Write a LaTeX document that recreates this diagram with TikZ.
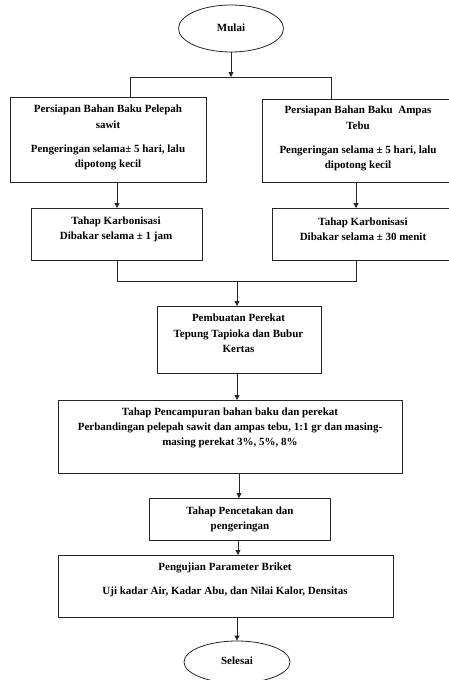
\documentclass[tikz,border=0pt]{standalone}
\usepackage{fontspec}
\setmainfont{Liberation Serif}
\usetikzlibrary{arrows.meta,shapes.geometric}
\tikzset{
  ln/.style={draw=black!85, line width=0.8pt},
  arr/.style={ln, -{Triangle[length=5pt,width=5pt]}},
  boxr/.style={ln, rectangle, inner sep=0pt, anchor=north west},
  txt/.style={font=\bfseries\fontsize{11}{15.3}\selectfont, align=center, inner sep=0pt},
  oval/.style={ln, ellipse, inner sep=0pt},
}
\begin{document}
\begin{tikzpicture}[x=1pt,y=-1pt]
\useasboundingbox (0,0) rectangle (449,680);
\clip (0,0) rectangle (449,680);
% shapes
\node[oval, minimum width=105pt, minimum height=47pt] (mulai) at (231,28.5) {};
\node[txt] (tmulai) at (231,28) {Mulai};

\node[boxr, minimum width=196pt, minimum height=85pt] (b1l) at (10,97) {};
\node[boxr, minimum width=200pt, minimum height=83pt] (b1r) at (262,99) {};
\node[boxr, minimum width=171pt, minimum height=52pt] (b2l) at (31,208) {};
\node[boxr, minimum width=190pt, minimum height=52pt] (b2r) at (272,208) {};
\node[boxr, minimum width=164pt, minimum height=67pt] (b3) at (157,306) {};
\node[boxr, minimum width=344pt, minimum height=73pt] (b4) at (58,400) {};
\node[boxr, minimum width=181pt, minimum height=42pt] (b5) at (149,498) {};
\node[boxr, minimum width=335pt, minimum height=62pt] (b6) at (58,555) {};
\node[oval, minimum width=106pt, minimum height=42pt] (selesai) at (237,662) {};

% texts
\node[txt] (t1l) at (108,137.5) {Persiapan Bahan Baku Pelepah\\sawit\\[8.5pt]Pengeringan selama± 5 hari, lalu\\dipotong kecil};
\node[txt] (t1r) at (358,138.5) {Persiapan Bahan Baku\ \ Ampas\\Tebu\\[8.5pt]Pengeringan selama ± 5 hari, lalu\\dipotong kecil};
\node[txt] (t2l) at (116,229.5) {Tahap Karbonisasi\\Dibakar selama ± 1 jam};
\node[txt] (t2r) at (363,229.5) {Tahap Karbonisasi\\Dibakar selama ± 30 menit};
\node[txt] (t3) at (238.5,333.5) {Pembuatan Perekat\\Tepung Tapioka dan Bubur\\Kertas};
\node[txt] (t4) at (230,428) {Tahap Pencampuran bahan baku dan perekat\\Perbandingan pelepah sawit dan ampas tebu, 1:1 gr dan masing-\\masing perekat 3\%, 5\%, 8\%};
\node[txt] (t5) at (240,519.5) {Tahap Pencetakan dan\\pengeringan};
\node[txt] (t6) at (225,579.5) {Pengujian Parameter Briket\\[8.5pt]Uji kadar Air, Kadar Abu, dan Nilai Kalor, Densitas};
\node[txt] (tsel) at (237,661) {Selesai};

% connectors
\coordinate (j1) at (231,77);
\coordinate (j1l) at (130,77);
\coordinate (j1r) at (331,77);
\draw[arr] (mulai.south) -- (j1);
\draw[ln] (j1l) -- (j1r);
\draw[ln] (j1l) -- (j1l |- b1l.north);
\draw[ln] (j1r) -- (j1r |- b1r.north);

\coordinate (xl) at (117,0);
\coordinate (xr) at (356,0);
\draw[arr] (xl |- b1l.south) -- (xl |- b2l.north);
\draw[arr] (xr |- b1r.south) -- (xr |- b2r.north);

\coordinate (j2l) at (117,281);
\coordinate (j2r) at (356,281);
\coordinate (j2) at (237,281);
\draw[ln] (xl |- b2l.south) -- (j2l) -- (j2r) -- (xr |- b2r.south);
\draw[arr] (j2) -- (j2 |- b3.north);

\coordinate (x3) at (237,0);
\draw[arr] (x3 |- b3.south) -- (x3 |- b4.north);
\coordinate (x4) at (239,0);
\draw[arr] (x4 |- b4.south) -- (x4 |- b5.north);
\coordinate (x5) at (238,0);
\draw[arr] (x5 |- b5.south) -- (x5 |- b6.north);
\draw[arr] (x3 |- b6.south) -- (selesai.north);
\end{tikzpicture}
\end{document}
